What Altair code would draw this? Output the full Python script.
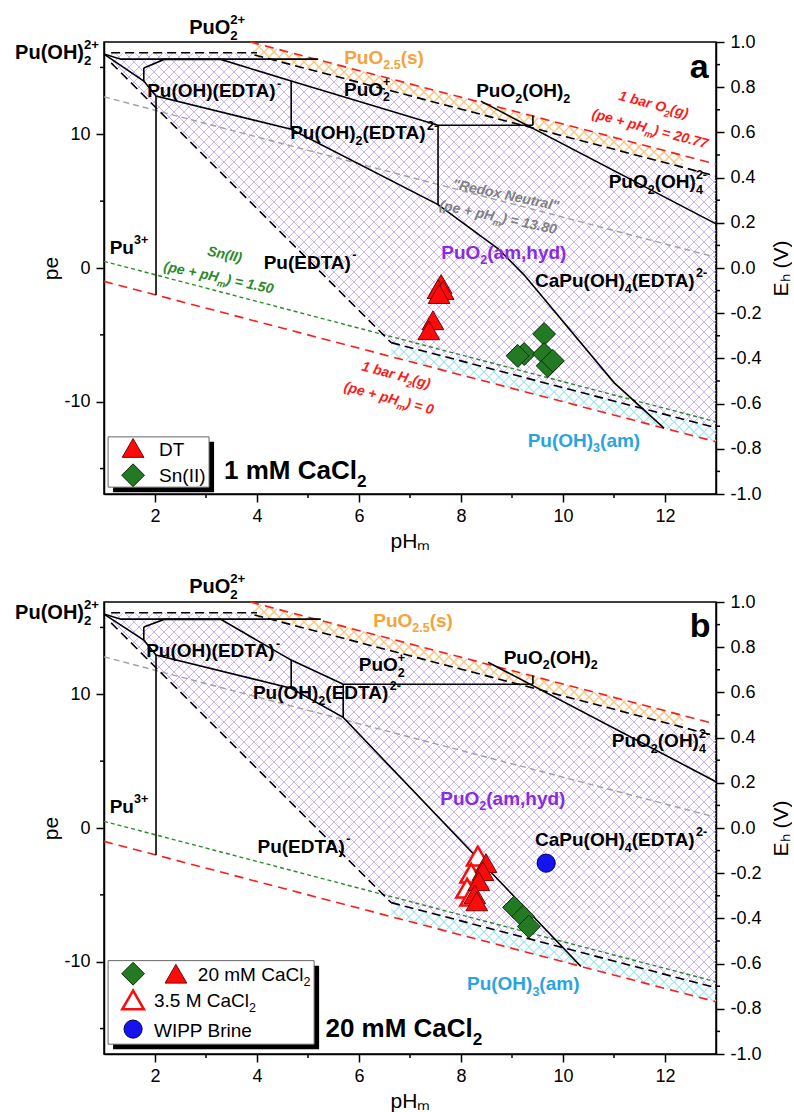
import math
import altair as alt
import pandas as pd

FONT = "Liberation Sans"
W, H = 612, 452
PE_MAX = 16.903          # pe equivalent of Eh = 1.0 V
KX = W / 12.0            # px per pH unit
KY = H / (2 * PE_MAX)    # px per pe unit

# ---------------- axis ticks ----------------
ph_major = [2, 4, 6, 8, 10, 12]
ph_minor = [3, 5, 7, 9, 11]
pe_major = [-10, 0, 10]
pe_minor = [-15, -5, 5, 15]
eh_major = [-1.0, -0.8, -0.6, -0.4, -0.2, 0.0, 0.2, 0.4, 0.6, 0.8, 1.0]
eh_minor = [-0.9, -0.7, -0.5, -0.3, -0.1, 0.1, 0.3, 0.5, 0.7, 0.9]

# ---------------- reference couples (pH, pe) ----------------
o2_line = [(3.87, 16.90), (13.0, 7.77)]
h2_line = [(1.0, -1.0), (13.0, -13.0)]
sn_line = [(1.0, 0.5), (13.0, -11.5)]
neutral_line = [(1.0, 12.8), (13.0, 0.8)]

# ---------------- solid-phase boundaries (black dashed) ----------------
solid_top = [(1.14, 16.1), (4.0, 16.1)]
solid_upper = [(3.95, 15.93), (13.0, 6.88)]
solid_left = [(1.14, 15.34), (6.63, -5.58)]
solid_lower = [(6.63, -5.58), (13.0, -11.95)]

# ---------------- solid-phase fields ----------------
puo2_field = [(1.14, 16.1), (4.0, 16.1), (4.0, 15.88), (13.0, 6.88), (13.0, -11.95), (6.63, -5.58), (1.14, 15.34)]
puo25_field = [(3.92, 16.85), (12.35, 8.42), (12.35, 7.53), (3.92, 15.96)]
puoh3_field = [(6.63, -5.58), (13.0, -11.95), (13.0, -13.0), (6.63, -6.63)]

# ---------------- aqueous boundaries (solid black) ----------------
aq_a = {
    "a1": [(1.0, 16.0), (1.33, 15.62), (5.2, 15.62)],
    "a2": [(1.0, 16.0), (1.78, 13.98), (2.02, 12.86), (4.67, 10.38), (7.55, 4.74), (8.73, 1.43),
           (9.24, -0.53), (11.0, -8.57), (11.98, -11.98)],
    "a3": [(1.78, 14.96), (1.78, 13.98)],
    "a4": [(1.78, 14.96), (2.18, 15.6), (3.29, 15.6), (4.67, 13.98), (7.55, 10.68), (9.41, 10.68)],
    "a5": [(4.67, 13.98), (4.67, 10.38)],
    "a6": [(7.55, 10.68), (7.55, 4.74)],
    "a7": [(9.41, 11.4), (9.41, 10.68)],
    "a8": [(2.02, 12.86), (2.02, -2.02)],
    "a9": [(8.39, 12.48), (13.0, 3.3)],
}
aq_b = {
    "b1": [(1.0, 16.0), (1.33, 15.62), (5.25, 15.62)],
    "b2": [(1.0, 16.0), (1.78, 14.06), (2.02, 12.93), (4.67, 10.45), (5.69, 8.27), (10.35, -10.35)],
    "b3": [(1.78, 15.04), (1.78, 14.06)],
    "b4": [(1.78, 15.04), (2.18, 15.6), (3.29, 15.6), (4.67, 12.56), (5.69, 10.75), (9.41, 10.75)],
    "b5": [(4.67, 12.56), (4.67, 10.45)],
    "b6": [(5.69, 10.75), (5.69, 8.27)],
    "b7": [(9.41, 11.4), (9.41, 10.75)],
    "b8": [(2.02, 12.93), (2.02, -2.02)],
    "b9": [(8.53, 12.4), (13.0, 3.46)],
}

# ---------------- measured points ----------------
dt_a_ph = [7.61, 7.55, 7.65, 7.57, 7.45, 7.37]
dt_a_pe = [-1.20, -1.58, -1.65, -1.95, -3.91, -4.66]
sn_a_ph = [9.63, 9.24, 9.11, 9.63, 9.70, 9.80]
sn_a_pe = [-4.94, -6.44, -6.57, -6.44, -7.32, -6.94]
ca20_tri_ph = [8.49, 8.43, 8.35, 8.27, 8.31]
ca20_tri_pe = [-2.63, -3.23, -3.98, -4.96, -5.49]
ca35_tri_ph = [8.33, 8.20, 8.12, 8.20]
ca35_tri_pe = [-2.10, -3.38, -4.50, -5.10]
ca20_dia_ph = [9.04, 9.22, 9.33]
ca20_dia_pe = [-5.94, -6.62, -7.37]
wipp_ph = [9.67]
wipp_pe = [-2.63]

# ---------------- labels (markup, pH, pe, kind) ----------------
labels_a = [
    ("PuO_{2}^{2+}", 3.22, 18.05, "out"),
    ("Pu(OH)_{2}^{2+}", 0.08, 16.2, "out"),
    ("PuO_{2.5}(s)", 6.49, 15.8, "ox"),
    ("a", 12.67, 15.15, "tag"),
    ("Pu(OH)(EDTA)^{-}", 3.16, 13.3, "sp"),
    ("PuO_{2}^{+}", 6.16, 13.4, "sp"),
    ("PuO_{2}(OH)_{2}", 9.22, 13.3, "sp"),
    ("Pu(OH)_{2}(EDTA)^{2-}", 6.1, 10.15, "sp"),
    ("1 bar O_{2}(g)", 11.78, 12.26, "o2"),
    ("(pe + pH_{m}) = 20.77", 11.71, 10.45, "o2"),
    ("PuO_{2}(OH)_{4}^{2-}", 11.86, 6.47, "sp"),
    ('"Redox Neutral"', 8.88, 5.5, "nt"),
    ("(pe + pH_{m}) = 13.80", 8.73, 3.83, "nt"),
    ("PuO_{2}(am,hyd)", 8.84, 1.2, "hyd"),
    ("Pu^{3+}", 1.49, 1.58, "sp"),
    ("Pu(EDTA)^{-}", 5.04, 0.45, "sp"),
    ("Sn(II)", 3.37, 1.05, "sn"),
    ("(pe + pH_{m}) = 1.50", 3.25, -0.68, "sn"),
    ("CaPu(OH)_{4}(EDTA)^{2-}", 11.14, -0.9, "sp"),
    ("1 bar H_{2}(g)", 6.73, -7.97, "h2"),
    ("(pe + pH_{m}) = 0", 6.59, -9.7, "h2"),
    ("Pu(OH)_{3}(am)", 10.41, -12.86, "red3"),
    ("1 mM CaCl_{2}", 4.75, -15.1, "panel"),
]
labels_b = [
    ("PuO_{2}^{2+}", 3.22, 18.1, "out"),
    ("Pu(OH)_{2}^{2+}", 0.08, 16.2, "out"),
    ("PuO_{2.5}(s)", 7.06, 15.56, "ox"),
    ("b", 12.69, 15.2, "tag"),
    ("Pu(OH)(EDTA)^{-}", 3.14, 13.3, "sp"),
    ("PuO_{2}^{+}", 6.45, 12.25, "sp"),
    ("PuO_{2}(OH)_{2}", 9.76, 12.8, "sp"),
    ("Pu(OH)_{2}(EDTA)^{2-}", 5.37, 10.15, "sp"),
    ("PuO_{2}(OH)_{4}^{2-}", 11.92, 6.54, "sp"),
    ("PuO_{2}(am,hyd)", 8.82, 2.26, "hyd"),
    ("Pu^{3+}", 1.49, 1.65, "sp"),
    ("Pu(EDTA)^{-}", 4.92, -1.35, "sp"),
    ("CaPu(OH)_{4}(EDTA)^{2-}", 11.14, -0.83, "sp"),
    ("Pu(OH)_{3}(am)", 9.22, -11.6, "red3"),
    ("20 mM CaCl_{2}", 6.88, -14.96, "panel"),
]

# legends
legend_a_texts = [("DT", 2.08, -13.55, "leg"), ("Sn(II)", 2.08, -15.5, "leg")]
legend_b_texts = [("20 mM CaCl_{2}", 2.84, -10.9, "leg"), ("3.5 M CaCl_{2}", 1.98, -12.86, "leg"),
                  ("WIPP Brine", 1.98, -15.1, "leg")]

# ---------------- styles ----------------
KIND = {
    "sp": dict(size=19, color="#000000", grp="b", angle=0, align="center"),
    "out": dict(size=20, color="#000000", grp="b", angle=0, align="center"),
    "hyd": dict(size=19, color="#8a2be2", grp="b", angle=0, align="center"),
    "ox": dict(size=19, color="#f5a33a", grp="b", angle=0, align="center"),
    "red3": dict(size=19, color="#2aa3e0", grp="b", angle=0, align="center"),
    "o2": dict(size=14, color="#ff1a1a", grp="bi", angle=15, align="center"),
    "h2": dict(size=14, color="#ff1a1a", grp="bi", angle=15, align="center"),
    "sn": dict(size=14, color="#2a8a2a", grp="bi", angle=12, align="center"),
    "nt": dict(size=14, color="#808080", grp="bi", angle=12, align="center"),
    "panel": dict(size=26, color="#000000", grp="b", angle=0, align="center"),
    "tag": dict(size=34, color="#000000", grp="b", angle=0, align="center"),
    "leg": dict(size=19, color="#000000", grp="r", angle=0, align="left"),
}

W_REG = {' ': 278, '(': 333, ')': 333, '+': 584, '-': 333, '.': 278, ',': 278, '=': 584, '"': 355,
         'A': 667, 'B': 667, 'C': 722, 'D': 722, 'E': 667, 'F': 611, 'G': 778, 'H': 722, 'I': 278, 'J': 500,
         'K': 667, 'L': 556, 'M': 833, 'N': 722, 'O': 778, 'P': 667, 'Q': 778, 'R': 722, 'S': 667, 'T': 611,
         'U': 722, 'V': 667, 'W': 944, 'X': 667, 'Y': 667, 'Z': 611,
         'a': 556, 'b': 556, 'c': 500, 'd': 556, 'e': 556, 'f': 278, 'g': 556, 'h': 556, 'i': 222, 'j': 222,
         'k': 500, 'l': 222, 'm': 833, 'n': 556, 'o': 556, 'p': 556, 'q': 556, 'r': 333, 's': 500, 't': 278,
         'u': 556, 'v': 500, 'w': 722, 'x': 500, 'y': 500, 'z': 500}
W_BOLD = {' ': 278, '(': 333, ')': 333, '+': 584, '-': 333, '.': 278, ',': 278, '=': 584, '"': 474,
          'A': 722, 'B': 722, 'C': 722, 'D': 722, 'E': 667, 'F': 611, 'G': 778, 'H': 722, 'I': 278, 'J': 556,
          'K': 722, 'L': 611, 'M': 833, 'N': 722, 'O': 778, 'P': 667, 'Q': 778, 'R': 722, 'S': 667, 'T': 611,
          'U': 722, 'V': 667, 'W': 944, 'X': 667, 'Y': 667, 'Z': 611,
          'a': 556, 'b': 611, 'c': 556, 'd': 611, 'e': 556, 'f': 333, 'g': 611, 'h': 611, 'i': 278, 'j': 278,
          'k': 556, 'l': 278, 'm': 889, 'n': 611, 'o': 611, 'p': 611, 'q': 611, 'r': 389, 's': 556, 't': 333,
          'u': 611, 'v': 556, 'w': 778, 'x': 556, 'y': 556, 'z': 500}


def tw(s, size, bold):
    tbl = W_BOLD if bold else W_REG
    return sum(tbl.get(c, 556) for c in s) * size / 1000.0


def parse(m):
    out, buf, i = [], "", 0
    while i < len(m):
        c = m[i]
        if c in "_^" and i + 1 < len(m) and m[i + 1] == "{":
            if buf:
                out.append((buf, "n"))
                buf = ""
            j = m.index("}", i)
            out.append((m[i + 2:j], "sub" if c == "_" else "sup"))
            i = j + 1
        else:
            buf += c
            i += 1
    if buf:
        out.append((buf, "n"))
    return out


def rich_rows(markup, x0, y0, kind):
    st = KIND[kind]
    size = st["size"]
    bold = st["grp"] in ("b", "bi")
    small = size * 0.66
    parts = parse(markup)
    placed, cur, k = [], 0.0, 0
    SUB, SUP = 0.30, -0.50
    while k < len(parts):
        t, kd = parts[k]
        if kd == "n":
            placed.append((t, cur, 0.0, size))
            cur += tw(t, size, bold)
            k += 1
        elif kd == "sub" and k + 1 < len(parts) and parts[k + 1][1] == "sup":
            t2 = parts[k + 1][0]
            placed.append((t, cur, SUB * size, small))
            placed.append((t2, cur, SUP * size, small))
            cur += max(tw(t, small, bold), tw(t2, small, bold))
            k += 2
        else:
            placed.append((t, cur, (SUB if kd == "sub" else SUP) * size, small))
            cur += tw(t, small, bold)
            k += 1
    start = -cur / 2.0 if st["align"] == "center" else 0.0
    base = 0.36 * size
    th = math.radians(st["angle"])
    rows = []
    for t, ox, oy, fs in placed:
        u, v = start + ox, base + oy
        sx = u * math.cos(th) - v * math.sin(th)
        sy = u * math.sin(th) + v * math.cos(th)
        rows.append(dict(x=x0 + sx / KX, y=y0 - sy / KY, text=t, size=fs,
                         color=st["color"], angle=st["angle"], grp=st["grp"]))
    return rows


def to_px(p):
    return ((p[0] - 1.0) * KX, (PE_MAX - p[1]) * KY)


def to_data(q):
    return (q[0] / KX + 1.0, PE_MAX - q[1] / KY)


def hatch(poly, step):
    pts = [to_px(p) for p in poly]
    n = len(pts)
    segs = []
    for sgn in (1, -1):
        vals = [q[0] + sgn * q[1] for q in pts]
        k0 = math.ceil(min(vals) / step)
        k1 = math.floor(max(vals) / step)
        for kk in range(k0, k1 + 1):
            c = kk * step
            hits = []
            for i in range(n):
                a, b = pts[i], pts[(i + 1) % n]
                fa = a[0] + sgn * a[1] - c
                fb = b[0] + sgn * b[1] - c
                if (fa >= 0) != (fb >= 0):
                    t = fa / (fa - fb)
                    hits.append((a[0] + t * (b[0] - a[0]), a[1] + t * (b[1] - a[1])))
            hits.sort()
            for j in range(0, len(hits) - 1, 2):
                p1, p2 = to_data(hits[j]), to_data(hits[j + 1])
                segs.append(dict(x=p1[0], y=p1[1], x2=p2[0], y2=p2[1]))
    return pd.DataFrame(segs)


def poly_df(lines):
    rows = []
    for name, pts in lines.items():
        for i, (x, y) in enumerate(pts):
            rows.append(dict(seg=name, i=i, x=x, y=y))
    return pd.DataFrame(rows)


XS = dict(domain=[1, 13], nice=False, zero=False)
YS = dict(domain=[-PE_MAX, PE_MAX], nice=False, zero=False)
ES = dict(domain=[-1.0, 1.0], nice=False, zero=False)


def axis_x():
    return alt.Axis(values=ph_major, title="pHₘ", labelFlush=False, labelOverlap=False,
                    labelPadding=5, titlePadding=5)


def axis_y():
    return alt.Axis(values=pe_major, title="pe", labelOverlap=False,
                    labelExpr="replace(datum.label, '\u2212', '-')", titlePadding=2)


def X(f="x"):
    return alt.X(f"{f}:Q", scale=alt.Scale(**XS), axis=axis_x())


def Y(f="y"):
    return alt.Y(f"{f}:Q", scale=alt.Scale(**YS), axis=axis_y())


def line_layer(lines, color, dash, width):
    kw = dict(color=color, strokeWidth=width)
    if dash:
        kw["strokeDash"] = dash
    return alt.Chart(poly_df(lines)).mark_line(**kw).encode(
        x=X(), y=Y(), detail="seg:N", order="i:Q")


def points_layer(ph, pe, shape, fill, stroke, size, sw=1.0):
    df = pd.DataFrame(dict(x=ph, y=pe))
    return alt.Chart(df).mark_point(shape=shape, filled=True, fill=fill, stroke=stroke, strokeWidth=sw,
                                    size=size, opacity=1, fillOpacity=1).encode(x=X(), y=Y())


def text_layers(rows):
    df = pd.DataFrame(rows)
    out = []
    for grp in ("b", "bi", "r"):
        sub = df[df.grp == grp]
        if len(sub) == 0:
            continue
        out.append(alt.Chart(sub).mark_text(
            align="left", baseline="alphabetic", font=FONT,
            fontWeight="bold" if grp in ("b", "bi") else "normal",
            fontStyle="italic" if grp == "bi" else "normal").encode(
            x=X(), y=Y(), text="text:N",
            size=alt.Size("size:Q", scale=None),
            color=alt.Color("color:N", scale=None),
            angle=alt.Angle("angle:Q", scale=None)))
    return out


def legend_box(x1, x2, y1, y2):
    df = pd.DataFrame([dict(x=x1, x2=x2, y=y1, y2=y2)])
    shadow = alt.Chart(df).mark_rect(color="black", xOffset=5, x2Offset=5, yOffset=5, y2Offset=5).encode(
        x=X(), x2="x2:Q", y=Y(), y2="y2:Q")
    box = alt.Chart(df).mark_rect(fill="white", stroke="#666666", strokeWidth=1).encode(
        x=X(), x2="x2:Q", y=Y(), y2="y2:Q")
    return [shadow, box]


RED, RED_EDGE = "#ff0a0a", "#7a0000"
GREEN, GREEN_EDGE = "#237a23", "#0b2e0b"
TRI, DIA, CIR = 470, 520, 330


def build_panel(aq, labels, legend_layers, point_layers, anchor=False):
    layers = []
    for poly, col, wdt in [(puo2_field, "#c6acf4", 0.9), (puo25_field, "#f5c584", 1.3),
                           (puoh3_field, "#a3e3f0", 1.1)]:
        layers.append(alt.Chart(hatch(poly, 10.0)).mark_rule(color=col, strokeWidth=wdt).encode(
            x=X(), y=Y(), x2="x2:Q", y2="y2:Q"))
    layers.append(line_layer({"n": neutral_line}, "#a0a0a0", [6, 4], 1.4))
    layers.append(line_layer({"sn": sn_line}, "#2a8a2a", [4, 3], 1.4))
    layers.append(line_layer({"o2": o2_line, "h2": h2_line}, "#ff1a1a", [9, 6], 1.6))
    layers.append(line_layer({"t": solid_top, "u": solid_upper, "l": solid_left, "w": solid_lower},
                             "black", [9, 5], 1.6))
    layers.append(line_layer(aq, "black", None, 1.6))
    layers += point_layers
    rows = []
    for m, x, y, k in labels:
        rows += rich_rows(m, x, y, k)
    layers += legend_layers[0]
    for m, x, y, k in legend_layers[1]:
        rows += rich_rows(m, x, y, k)
    layers += legend_layers[2]
    layers += text_layers(rows)
    # minor ticks
    layers.append(alt.Chart(pd.DataFrame(dict(x=ph_minor))).mark_rule(color="black", strokeWidth=1.5).encode(
        x=X(), y=alt.value(H), y2=alt.value(H + 4)))
    layers.append(alt.Chart(pd.DataFrame(dict(y=pe_minor))).mark_rule(color="black", strokeWidth=1.5).encode(
        y=Y(), x=alt.value(0), x2=alt.value(-4)))
    if anchor:
        layers.append(alt.Chart(pd.DataFrame(dict(a=[0]))).mark_rule(color="white", strokeOpacity=0).encode(
            x=alt.value(-103), x2=alt.value(-100), y=alt.value(-41), y2=alt.value(-38)))
    pe_part = alt.layer(*layers)
    eh_part = alt.Chart(pd.DataFrame(dict(eh=eh_minor))).mark_rule(color="black", strokeWidth=1.5).encode(
        y=alt.Y("eh:Q", scale=alt.Scale(**ES),
                axis=alt.Axis(orient="right", values=eh_major, title="Eₕ (V)", labelOverlap=False,
                              labelExpr="replace(format(datum.value, '.1f'), '\u2212', '-')",
                              titleAngle=270, titleBaseline="top", titlePadding=9)),
        x=alt.value(W), x2=alt.value(W + 4))
    return alt.layer(pe_part, eh_part).resolve_scale(y="independent").properties(width=W, height=H)


# ---- panel a ----
leg_a_sym = [
    points_layer([1.57], [-13.46], "triangle-up", RED, RED_EDGE, TRI),
    points_layer([1.57], [-15.5], "diamond", GREEN, GREEN_EDGE, DIA),
]
pts_a = [
    points_layer(dt_a_ph, dt_a_pe, "triangle-up", RED, RED_EDGE, TRI),
    points_layer(sn_a_ph, sn_a_pe, "diamond", GREEN, GREEN_EDGE, DIA),
]
panel_a = build_panel(aq_a, labels_a, (legend_box(1.08, 3.06, -12.63, -16.39), legend_a_texts, leg_a_sym),
                      pts_a, anchor=True)

# ---- panel b ----
leg_b_sym = [
    points_layer([1.57], [-10.9], "diamond", GREEN, GREEN_EDGE, DIA),
    points_layer([2.41], [-10.9], "triangle-up", RED, RED_EDGE, TRI),
    points_layer([1.57], [-12.86], "triangle-up", "white", RED, TRI, 2.5),
    points_layer([1.57], [-15.04], "circle", "#1414f0", "#00005a", CIR),
]
pts_b = [
    points_layer(ca35_tri_ph, ca35_tri_pe, "triangle-up", "white", RED, TRI, 2.5),
    points_layer(ca20_tri_ph, ca20_tri_pe, "triangle-up", RED, RED_EDGE, TRI),
    points_layer(ca20_dia_ph, ca20_dia_pe, "diamond", GREEN, GREEN_EDGE, DIA),
    points_layer(wipp_ph, wipp_pe, "circle", "#1414f0", "#00005a", CIR),
]
panel_b = build_panel(aq_b, labels_b, (legend_box(1.08, 5.12, -9.92, -16.17), legend_b_texts, leg_b_sym),
                      pts_b)

chart = alt.vconcat(panel_a, panel_b, spacing=108, bounds="flush").configure_view(
    stroke="black", strokeWidth=1.5
).configure_axis(
    labelFont=FONT, titleFont=FONT, labelFontSize=18, titleFontSize=21, titleFontWeight="normal",
    domainColor="black", domainWidth=1.5, tickColor="black", tickWidth=1.5, tickSize=8,
    labelColor="black", titleColor="black", grid=False, labelPadding=6
).properties(padding=0, background="white")

chart.save("out.html", embed_options={"renderer": "svg", "actions": False})
